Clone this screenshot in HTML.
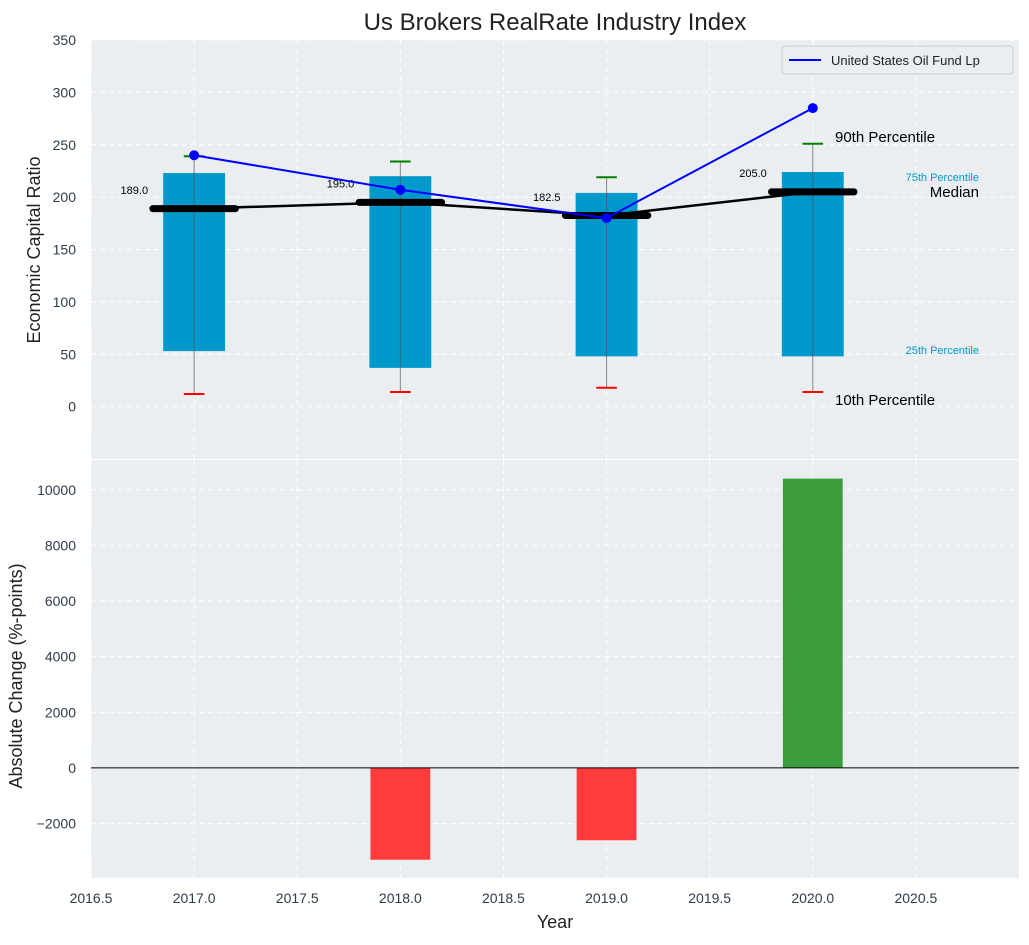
<!DOCTYPE html>
<html><head><meta charset="utf-8"><style>
body{margin:0;background:#fff;}
svg text{font-family:"Liberation Sans",sans-serif;}
</style></head><body>
<svg id="c" width="1029" height="940"></svg>
<script>
const years=[2017,2018,2019,2020];
const p10=[12,14,18,14];
const p25=[53,37,48,48];
const median=[189,195,182.5,205];
const p75=[223,220,204,224];
const p90=[239,234,219,251];
const fund=[240,207,180,285];
const absChange=[0,-3300,-2600,10400];
const xTicks=[2016.5,2017,2017.5,2018,2018.5,2019,2019.5,2020,2020.5];
const yTopTicks=[0,50,100,150,200,250,300,350];
const yBotTicks=[-2000,0,2000,4000,6000,8000,10000];

const NS="http://www.w3.org/2000/svg";
const svg=document.getElementById('c');
function el(t,a,p){const e=document.createElementNS(NS,t);for(const k in a)e.setAttribute(k,a[k]);(p||svg).appendChild(e);return e;}
const X0=91,X1=1019;
const x=v=>X0+(v-2016.5)/(2021-2016.5)*(X1-X0);
const T0=40,T1=459;
const yT=v=>T1-(v+50)/400*(T1-T0);
const B0=460,B1=878;
const yB=v=>B1-(v+3957)/(11070+3957)*(B1-B0);

let g=el('g',{});

el('rect',{x:X0,y:T0,width:X1-X0,height:T1-T0,fill:'#eaeef0'},g);
let g2=el('g',{});

el('rect',{x:X0,y:B0,width:X1-X0,height:B1-B0,fill:'#eaeef0'},g2);
xTicks.forEach(t=>{
 el('line',{x1:x(t),x2:x(t),y1:T0,y2:T1,stroke:'#fff','stroke-dasharray':'5,4','stroke-width':1},g);
 el('line',{x1:x(t),x2:x(t),y1:B0,y2:B1,stroke:'#fff','stroke-dasharray':'5,4','stroke-width':1},g2);
 const lt=el('text',{x:x(t),y:903,'font-size':14,fill:'#2e3c4a','text-anchor':'middle'});
 lt.textContent=t.toFixed(1);
 
});
yTopTicks.forEach(t=>{
 el('line',{x1:X0,x2:X1,y1:yT(t),y2:yT(t),stroke:'#fff','stroke-dasharray':'5,4'},g);
 const lt=el('text',{x:76,y:yT(t)+5,'font-size':14,fill:'#2e3c4a','text-anchor':'end'});
 lt.textContent=t;
 
});
yBotTicks.forEach(t=>{
 el('line',{x1:X0,x2:X1,y1:yB(t),y2:yB(t),stroke:'#fff','stroke-dasharray':'5,4'},g2);
 const lt=el('text',{x:76,y:yB(t)+5,'font-size':14,fill:'#2e3c4a','text-anchor':'end'});
 lt.textContent=t<0?'\u2212'+Math.abs(t):t;
 
});
years.forEach((yr,i)=>{
 const b=el('rect',{x:x(yr-0.15),y:yT(p75[i]),width:x(yr+0.15)-x(yr-0.15),height:yT(p25[i])-yT(p75[i]),fill:'#0099cc'},g);
 
 el('line',{x1:x(yr),x2:x(yr),y1:yT(p10[i]),y2:yT(p90[i]),stroke:'#555',opacity:0.7,'stroke-width':1},g);
 el('line',{x1:x(yr-0.05),x2:x(yr+0.05),y1:yT(p90[i]),y2:yT(p90[i]),stroke:'green','stroke-width':2},g);
 el('line',{x1:x(yr-0.05),x2:x(yr+0.05),y1:yT(p10[i]),y2:yT(p10[i]),stroke:'red','stroke-width':2},g);
});
el('polyline',{points:years.map((yr,i)=>x(yr)+','+yT(median[i])).join(' '),fill:'none',stroke:'#000','stroke-width':2.5},g);
years.forEach((yr,i)=>{
 const m=el('line',{x1:x(yr-0.2),x2:x(yr+0.2),y1:yT(median[i]),y2:yT(median[i]),stroke:'#000','stroke-width':7,'stroke-linecap':'round'},g);
 
 const t=el('text',{x:x(yr-0.29),y:yT(median[i]+14),'font-size':11,fill:'#000','text-anchor':'middle'},g);
 t.textContent=median[i].toFixed(1);
 
});
el('polyline',{points:years.map((yr,i)=>x(yr)+','+yT(fund[i])).join(' '),fill:'none',stroke:'blue','stroke-width':2},g);
years.forEach((yr,i)=>{
 const c=el('circle',{cx:x(yr),cy:yT(fund[i]),r:5,fill:'blue'},g);
 
});
function txt(s,xx,yy,sz,fill,anchor,name){const t=el('text',{x:xx,y:yy,'font-size':sz,fill:fill,'text-anchor':anchor||'start'},g);t.textContent=s;}
txt('90th Percentile',835,142,15,'#000','start','p90-annotation');
txt('75th Percentile',979,181,11,'#0099cc','end','p75-annotation');
txt('Median',979,197,15,'#000','end','median-annotation');
txt('25th Percentile',979,354,11,'#0099cc','end','p25-annotation');
txt('10th Percentile',835,405,15,'#000','start','p10-annotation');
const lg=el('g',{},g);
el('rect',{x:782,y:46,width:231,height:28,rx:3,fill:'#eaeef0',stroke:'#ccc'},lg);
el('line',{x1:789,x2:821,y1:60,y2:60,stroke:'blue','stroke-width':2},lg);
const lt=el('text',{x:831,y:65,'font-size':13,fill:'#222'},lg);lt.textContent='United States Oil Fund Lp';
years.forEach((yr,i)=>{
 const v=absChange[i];if(v===0)return;
 const b=el('rect',{x:x(yr-0.145),y:Math.min(yB(v),yB(0)),width:x(yr+0.145)-x(yr-0.145),height:Math.abs(yB(v)-yB(0)),fill:v>=0?'#3a9c3a':'#ff3b3b'},g2);
 
});
el('line',{x1:X0,x2:X1,y1:yB(0),y2:yB(0),stroke:'#000','stroke-width':1},g2);
function T(s,xx,yy,sz,name,rot){const t=el('text',{x:xx,y:yy,'font-size':sz,fill:'#222','text-anchor':'middle',transform:rot?`rotate(-90 ${xx} ${yy})`:''});t.textContent=s;}
T('Us Brokers RealRate Industry Index',555,30,24,'chart-title');
T('Year',555,928,18,'x-axis-title');
T('Economic Capital Ratio',40,250,18,'y-top-axis-title',true);
T('Absolute Change (%-points)',22,676,18,'y-bottom-axis-title',true);
</script>
</body></html>
